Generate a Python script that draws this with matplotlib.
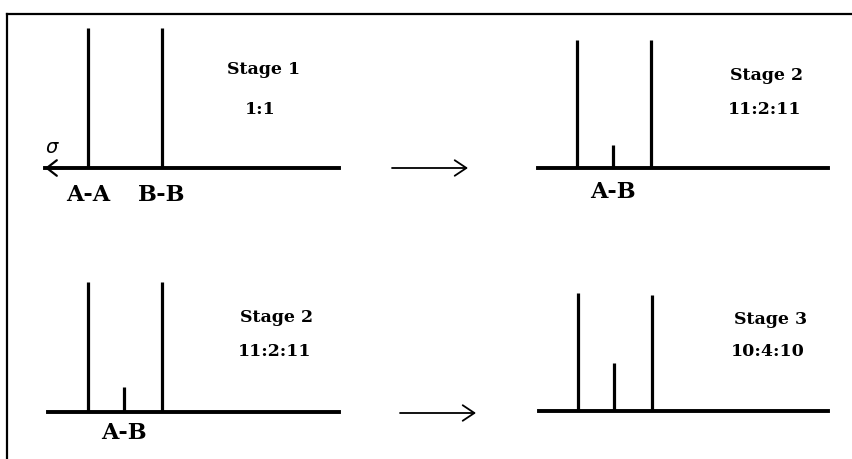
import matplotlib
matplotlib.use('Agg')
import matplotlib.pyplot as plt
from matplotlib.lines import Line2D

W, H = 852, 459

# peak positions along sigma (A-A, A-B, B-B)
pos_two = [0, 1]
pos_three = [0, 0.48, 1]
labels_two = ['A-A', 'B-B']

# peak heights
stage1 = [140, 140]
stage2_top = [128, 23, 128]
stage2_bot = [130, 25, 130]
stage3 = [118, 48, 116]

titles = ['Stage 1', 'Stage 2', 'Stage 2', 'Stage 3']
ratios = ['1:1', '11:2:11', '11:2:11', '10:4:10']

fig = plt.figure(figsize=(W / 100, H / 100), dpi=100)
fig.patch.set_facecolor('white')

unit = 74.0  # px between A-A and B-B
lab_font = dict(fontsize=16, family='DejaVu Serif', fontweight='bold',
                clip_on=False, ha='center', va='center')


def fx(px):
    return px / W


def fy(py):
    return 1 - py / H


def panel(left, right, base, origin):
    ax = fig.add_axes([fx(left), fy(base), (right - left) / W, 150 / H])
    ax.set_xlim((left - origin) / unit, (right - origin) / unit)
    ax.set_ylim(0, 150)
    ax.axis('off')
    return ax


lw_peak = 2.3
lw_base = 2.8

# 1. Stage 1
ax1 = panel(45, 339, 168, 88)
x0, x1 = ax1.get_xlim()
ax1.axhline(0, color='black', lw=lw_base, clip_on=False)
ax1.annotate('', xy=(x0, 0), xytext=(x0 + 0.25, 0), annotation_clip=False,
             arrowprops=dict(arrowstyle='->,head_length=0.45,head_width=0.35',
                             lw=1.6, color='black', shrinkA=0, shrinkB=0,
                             mutation_scale=16))
ax1.vlines(pos_two, 0, stage1, color='black', lw=lw_peak, clip_on=False)
for p, lab in zip(pos_two, labels_two):
    ax1.text(p, -27, lab, **lab_font)
ax1.text(-0.48, 20, r'$\sigma$', ha='center', va='center', fontsize=14,
         family='DejaVu Serif', clip_on=False)

# 2. Stage 2 (top)
ax2 = panel(538, 828, 168, 577)
ax2.axhline(0, color='black', lw=lw_base, clip_on=False)
ax2.vlines(pos_three, 0, stage2_top, color='black', lw=lw_peak, clip_on=False)
ax2.text(pos_three[1], -24, 'A-B', **lab_font)

# 3. Stage 2 (bottom)
ax3 = panel(48, 339, 412, 88)
ax3.axhline(0, color='black', lw=lw_base, clip_on=False)
ax3.vlines(pos_three, 0, stage2_bot, color='black', lw=lw_peak, clip_on=False)
ax3.text(pos_three[1], -21, 'A-B', **lab_font)

# 4. Stage 3
ax4 = panel(539, 828, 411, 578)
ax4.axhline(0, color='black', lw=lw_base, clip_on=False)
ax4.vlines(pos_three, 0, stage3, color='black', lw=lw_peak, clip_on=False)

# stage titles and ratios
title_xy = [(264, 70), (766, 75), (276, 318), (771, 320)]
ratio_xy = [(260, 110), (765, 110), (275, 352), (768, 352)]
for t, (tx, ty) in zip(titles, title_xy):
    fig.text(fx(tx), fy(ty), t, ha='center', va='center', fontsize=12.5,
             family='DejaVu Serif', fontweight='bold')
for r, (rx, ry) in zip(ratios, ratio_xy):
    fig.text(fx(rx), fy(ry), r, ha='center', va='center', fontsize=12.5,
             family='DejaVu Serif', fontweight='bold')

# arrows between stages
for (xa, xb, ya) in [(392, 468, 168), (400, 476, 413)]:
    fig.add_artist(plt.Annotation('', xy=(fx(xb), fy(ya)), xytext=(fx(xa), fy(ya)),
                                  xycoords='figure fraction',
                                  arrowprops=dict(arrowstyle='->,head_length=0.6,head_width=0.4',
                                                  lw=1.3, color='black',
                                                  shrinkA=0, shrinkB=0,
                                                  mutation_scale=14)))

# frame (top and left only)
fig.add_artist(Line2D([fx(7), 1], [fy(14), fy(14)], color='black', lw=1.6))
fig.add_artist(Line2D([fx(7), fx(7)], [fy(14), 0], color='black', lw=1.6))

fig.savefig('out.png', dpi=100)
